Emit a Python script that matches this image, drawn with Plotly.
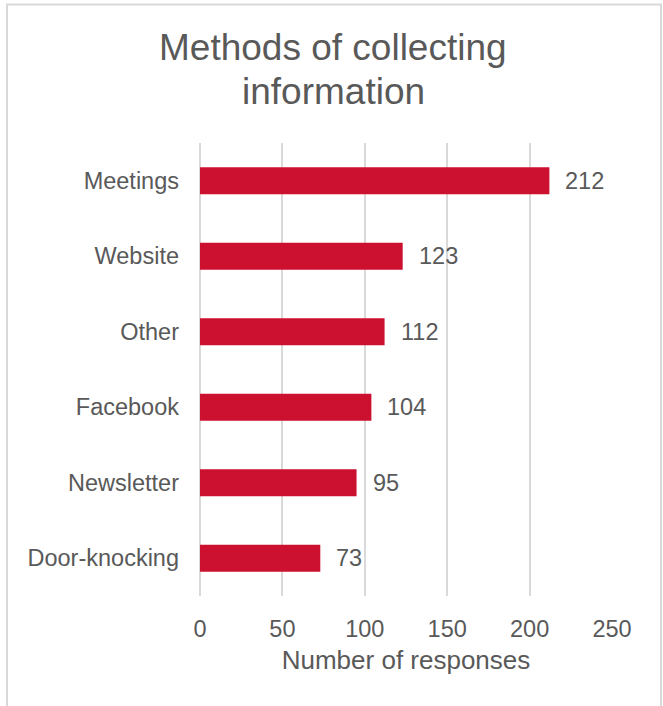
import plotly.graph_objects as go

categories = ["Meetings", "Website", "Other", "Facebook", "Newsletter", "Door-knocking"]
responses = [212, 123, 112, 104, 95, 73]
tick_values = [0, 50, 100, 150, 200, 250]
title_lines = ["Methods of collecting", "information"]

W, H = 663, 706
ML, MR, MT, MB = 200, 51, 143, 110

bar_color = "#CC1030"
text_color = "#595959"
grid_color = "#D9D9D9"
font_family = "Liberation Sans, Arial, sans-serif"

fig = go.Figure(
    go.Bar(
        x=responses,
        y=categories,
        orientation="h",
        marker=dict(color=bar_color, line=dict(width=0)),
        width=0.36,
        hoverinfo="x+y",
    )
)

# value labels placed just past each bar end
for cat, val in zip(categories, responses):
    fig.add_annotation(
        x=val, y=cat, text=str(val), showarrow=False,
        xanchor="left", xshift=14,
        font=dict(size=23.5, color=text_color, family=font_family),
    )

pw = W - ML - MR
ph = H - MT - MB
def px_to_paper_x(px):
    return (px - ML) / pw
def px_to_paper_y(py):
    return (H - MB - py) / ph

# two-line chart title, set with tighter line spacing
for line, yc in zip(title_lines, [47, 91]):
    fig.add_annotation(
        xref="paper", yref="paper",
        x=px_to_paper_x(333), y=px_to_paper_y(yc),
        text=line, showarrow=False,
        xanchor="center", yanchor="middle",
        font=dict(size=37, color=text_color, family=font_family),
    )

# outer chart border (the bottom edge runs past the visible page)
fig.add_shape(
    type="rect", xref="paper", yref="paper",
    x0=px_to_paper_x(7), x1=px_to_paper_x(661),
    y0=px_to_paper_y(760), y1=px_to_paper_y(4.5),
    line=dict(color=grid_color, width=2), fillcolor="rgba(0,0,0,0)",
    layer="below",
)

fig.update_layout(
    width=W, height=H,
    margin=dict(l=ML, r=MR, t=MT, b=MB),
    paper_bgcolor="white", plot_bgcolor="white",
    showlegend=False,
    font=dict(family=font_family, color=text_color),
    xaxis=dict(
        range=[0, 250],
        tickvals=tick_values,
        showgrid=True, gridcolor=grid_color, gridwidth=1.5,
        zeroline=True, zerolinecolor=grid_color, zerolinewidth=1.5,
        showline=False,
        ticks="", ticklabelstandoff=16,
        tickfont=dict(size=23.5, color=text_color),
        title=dict(text="Number of responses", standoff=10,
                   font=dict(size=26, color=text_color)),
        fixedrange=True,
    ),
    yaxis=dict(
        categoryorder="array", categoryarray=categories[::-1],
        showgrid=False, zeroline=False, showline=False,
        ticks="", ticklabelstandoff=20,
        tickfont=dict(size=23.5, color=text_color),
        fixedrange=True,
    ),
    bargap=0.64,
)

fig.write_html("out.html")
